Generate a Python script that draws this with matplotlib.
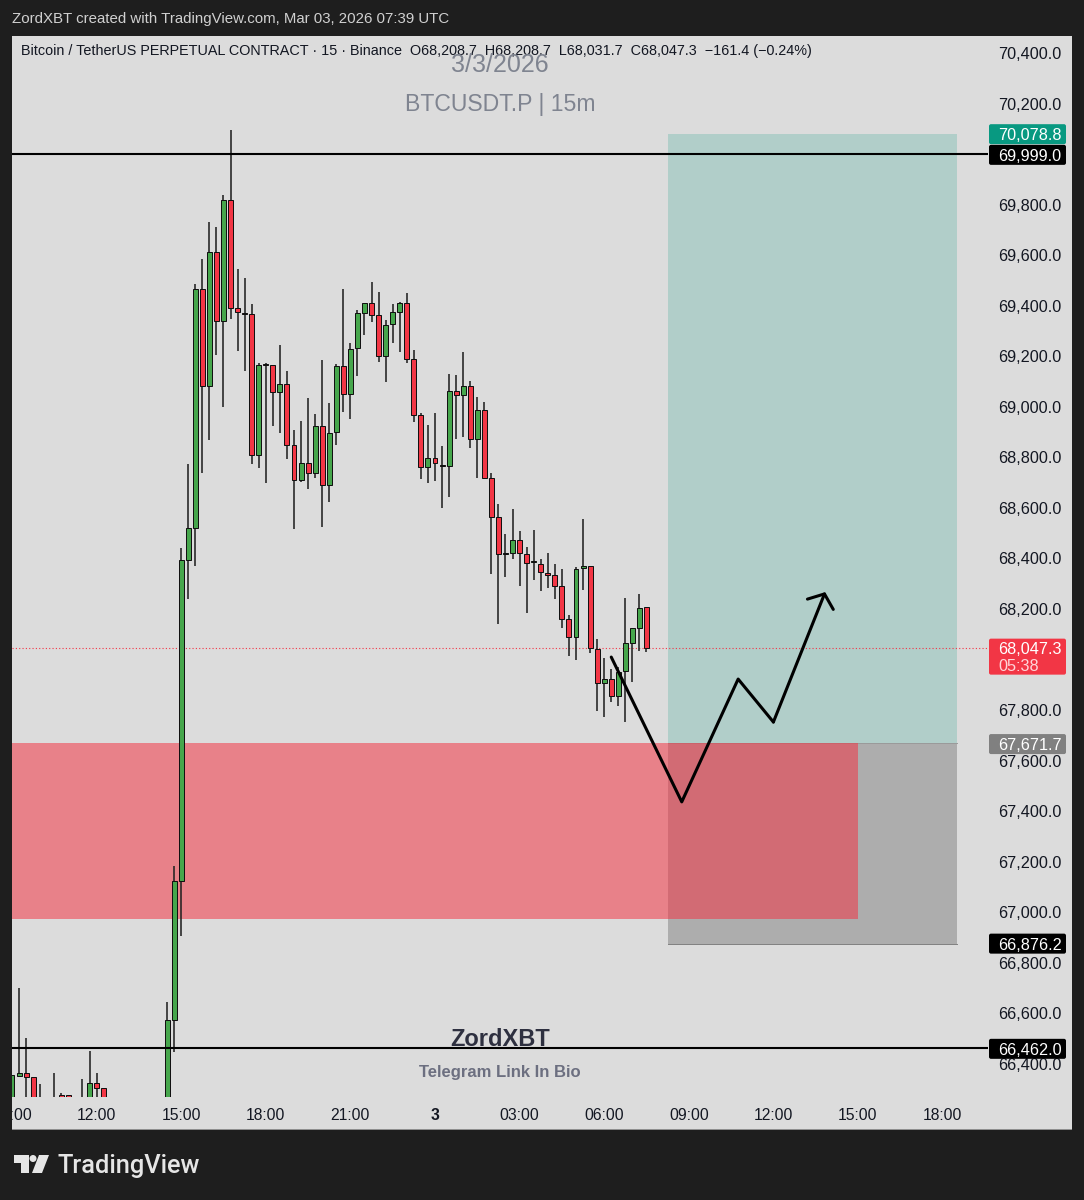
from matplotlib import pyplot as plt
from matplotlib.patches import Rectangle, FancyBboxPatch, Polygon, Circle
from matplotlib.transforms import IdentityTransform
import numpy as np

plt.rcParams['font.family'] = ['Liberation Sans', 'DejaVu Sans']

# bar number counted from the 15:00 candle
bars = [-24, -23, -22, -21, -20, -18, -17, -16, -14, -13, -12, -11, -2, -1,
        0, 1, 2, 3, 4, 5, 6, 7, 8, 9, 10, 11, 12, 13, 14, 15, 16, 17, 18, 19,
        20, 21, 22, 23, 24, 25, 26, 27, 28, 29, 30, 31, 32, 33, 34, 35, 36, 37, 38, 39,
        40, 41, 42, 43, 44, 45, 46, 47, 48, 49, 50, 51, 52, 53, 54, 55, 56, 57, 58, 59,
        60, 61, 62, 63, 64, 65, 66]
opens = [66200, 66352, 66364, 66348, 66250, 66250, 66277, 66277, 66250, 66200, 66325, 66305, 66200, 66574,
         67124, 68394, 68521, 69466, 69082, 69613, 69340, 69818, 69391, 69371, 69367, 68809, 69170, 69166, 69059, 69090,
         68849, 68711, 68778, 68738, 68924, 68691, 68900, 69162, 69051, 69233, 69371, 69411, 69363, 69201, 69328, 69375,
         69411, 69189, 68968, 68762, 68798, 68770, 68766, 69063, 69047, 69082, 68873, 68988, 68718, 68564, 68418, 68422,
         68473, 68418, 68386, 68378, 68343, 68335, 68291, 68161, 68089, 68362, 68370, 68042, 67907, 67923, 67856, 67955,
         68066, 68125, 68208.7]
highs = [66356, 66701, 66503, 66348, 66321, 66364, 66285, 66277, 66340, 66451, 66364, 66305, 66645, 67183,
         68441, 68774, 69486, 69585, 69731, 69712, 69838, 70095, 69545, 69510, 69407, 69173, 69173, 69166, 69245, 69142,
         68908, 68944, 69035, 68972, 69185, 69015, 69170, 69466, 69253, 69383, 69411, 69494, 69454, 69344, 69407, 69415,
         69450, 69225, 68976, 68928, 68976, 68845, 69130, 69126, 69217, 69102, 69039, 69019, 68738, 68616, 68497, 68596,
         68509, 68445, 68513, 68398, 68422, 68378, 68358, 68176, 68366, 68556, 68370, 68081, 68006, 67963, 67971, 68244,
         68125, 68260, 68208.7]
lows = [66200, 66348, 66200, 66200, 66200, 66200, 66200, 66200, 66200, 66200, 66200, 66200, 66200, 66447,
        66906, 68240, 68370, 68738, 68869, 69205, 69000, 69348, 69221, 69142, 68774, 68758, 68699, 68924, 68897, 68794,
        68517, 68703, 68675, 68718, 68525, 68624, 68849, 68980, 68952, 69122, 69284, 69336, 69177, 69098, 69253, 69217,
        69173, 68940, 68715, 68699, 68707, 68600, 68643, 68873, 68881, 68837, 68718, 68718, 68339, 68141, 68327, 68398,
        68291, 68184, 68315, 68271, 68283, 68240, 68125, 68014, 67998, 68275, 68026, 67797, 67773, 67832, 67816, 67753,
        67911, 68034, 68031.7]
closes = [66356, 66364, 66348, 66200, 66220, 66240, 66240, 66250, 66240, 66325, 66305, 66200, 66574, 67124,
          68394, 68521, 69466, 69082, 69613, 69340, 69818, 69391, 69375, 69367, 68809, 69166, 69166, 69059, 69090, 68849,
          68711, 68778, 68738, 68924, 68691, 68897, 69162, 69051, 69229, 69371, 69411, 69363, 69201, 69324, 69375, 69411,
          69189, 68968, 68762, 68798, 68778, 68766, 69063, 69047, 69082, 68873, 68988, 68718, 68564, 68418, 68422, 68473,
          68422, 68382, 68390, 68347, 68335, 68291, 68161, 68089, 68358, 68370, 68046, 67907, 67923, 67856, 67951, 68066,
          68125, 68204, 68047.3]

price_ticks = [70400, 70200, 70000, 69800, 69600, 69400, 69200, 69000, 68800, 68600, 68400, 68200, 68000,
               67800, 67600, 67400, 67200, 67000, 66800, 66600, 66400]
time_ticks = [-24, -12, 0, 12, 24, 36, 48, 60, 72, 84, 96, 108]
time_labels = ["09:00", "12:00", "15:00", "18:00", "21:00", "3", "03:00", "06:00", "09:00", "12:00", "15:00", "18:00"]

# drawing on the right side
arrow_x = [61, 71, 79, 84, 91.35]
arrow_y = [68010, 67437, 67923, 67753, 68267]
line_high = 69999.0
line_low = 66462.0
last_price = 68047.3
target = 70078.8
entry = 67671.7
stop = 66876.2
zone_low = 66974

BG = "#1e1e1e"
PANEL = "#dcdcdc"
GREEN = "#46a64c"
RED = "#f23645"
W, H = 1084, 1200

fig = plt.figure(figsize=(W / 100, H / 100), dpi=100, facecolor=BG)

def fx(x):
    return x / W

def fy(y):
    return 1 - y / H

# light panel behind chart and axes
fig.add_artist(Rectangle((fx(12), fy(1129)), fx(1060), 1093 / H, fc=PANEL, ec="none",
                         transform=fig.transFigure, zorder=-1))
fig.add_artist(Rectangle((fx(12), fy(1130)), fx(1060), 1 / H, fc="#8f8f8f", ec="none",
                         transform=fig.transFigure, zorder=-1))

ax = fig.add_axes([fx(12), fy(1097), 976 / W, (1097 - 37) / H])
ax.patch.set_alpha(0)
ax.set_xlim(-24, 114.44)
ax.set_ylim(70400 - 1044 * 3.9565, 70400 + 16 * 3.9565)
for s in ax.spines.values():
    s.set_visible(False)

ax.yaxis.tick_right()
ax.set_yticks(price_ticks)
ax.set_yticklabels([f"{p:,.1f}" for p in price_ticks], fontsize=11.7, color="#131722")
ax.tick_params(axis="y", length=0, pad=7)
ax.set_xticks(time_ticks)
ax.set_xticklabels(time_labels, fontsize=11.3, color="#131722")
ax.tick_params(axis="x", length=0, pad=8.2)
ax.get_xticklabels()[5].set_fontweight("bold")

bars = np.array(bars)
opens = np.array(opens)
highs = np.array(highs)
lows = np.array(lows)
closes = np.array(closes)

# position tool and zone
ax.add_patch(Rectangle((69, entry), 41, target - entry, fc="#089981", alpha=0.2, lw=0, zorder=1))
ax.add_patch(Rectangle((69, stop), 41, entry - stop, fc="#000000", alpha=0.21, lw=0, zorder=1))
ax.plot([69, 110], [stop, stop], color="#808080", lw=0.7, zorder=1.1)
ax.plot([69, 110], [entry, entry], color="#9a9a9a", lw=0.7, zorder=1.1)
ax.add_patch(Rectangle((-24, zone_low), 120, entry - zone_low, fc=RED, alpha=0.55, lw=0, zorder=2))

ax.axhline(last_price, color=RED, lw=0.8, ls=(0, (1, 2)), zorder=2.5)

# candles
ax.vlines(bars, lows, highs, color="#222222", lw=1.15, zorder=3)
colors = [GREEN if c >= o else RED for o, c in zip(opens, closes)]
ax.bar(bars, closes - opens, bottom=opens, width=0.7, color=colors, edgecolor="#111111", linewidth=0.72, zorder=4)

ax.axhline(line_high, color="#000000", lw=1.5, zorder=5)
ax.axhline(line_low, color="#000000", lw=1.5, zorder=5)

ax.plot(arrow_x[:-1], arrow_y[:-1], color="#000000", lw=2.2, zorder=6, solid_capstyle="round")
ax.annotate("", xy=(arrow_x[-1], arrow_y[-1]), xytext=(arrow_x[-2], arrow_y[-2]), zorder=6,
            arrowprops=dict(arrowstyle="->,head_length=0.4,head_width=0.5", color="#000000", lw=2.2,
                            mutation_scale=20, shrinkA=0, shrinkB=0))

# price tags on the axis
def tag(price, text, fc, fg="#ffffff", h=20, y_shift=0):
    y = ax.transData.transform((0, price))[1] + y_shift
    fig.add_artist(FancyBboxPatch((990, y - h / 2 + 1), 75, h - 2, boxstyle="round,pad=1,rounding_size=2",
                                  fc=fc, ec="none", transform=IdentityTransform(), zorder=8))
    fig.text(fx(998), y / H, text, color=fg, fontsize=11.7, ha="left", va="center_baseline", zorder=9)

tag(target, "70,078.8", "#089981")
tag(line_high, "69,999.0", "#000000", y_shift=-0.5)
tag(entry, "67,671.7", "#808080", y_shift=-1.5)
tag(stop, "66,876.2", "#000000")
tag(line_low, "66,462.0", "#000000", y_shift=-0.5)

y_last = ax.transData.transform((0, last_price))[1]
fig.add_artist(FancyBboxPatch((990, y_last - 26), 75, 34, boxstyle="round,pad=1,rounding_size=2",
                              fc=RED, ec="none", transform=IdentityTransform(), zorder=8))
fig.text(fx(998), y_last / H, "68,047.3", color="#ffffff", fontsize=11.7, va="center_baseline", zorder=9)
fig.text(fx(998), (y_last - 17) / H, "05:38", color="#ffd5d9", fontsize=11.7, va="center_baseline", zorder=9)

# cover the part of the first time label that sticks out
fig.add_artist(Rectangle((0, fy(1129)), fx(12), 32 / H, fc=BG, ec="none", transform=fig.transFigure, zorder=7))

# header and captions
fig.text(fx(12), fy(19), "ZordXBT created with TradingView.com, Mar 03, 2026 07:39 UTC", color="#d0d0d0",
         fontsize=10.78, va="center")
fig.text(fx(21), fy(51), "Bitcoin / TetherUS PERPETUAL CONTRACT · 15 · Binance  O68,208.7  H68,208.7  L68,031.7  C68,047.3  \u2212161.4 (\u22120.24%)",
         color="#131722", fontsize=10.4, va="center", zorder=9)
fig.text(fx(500), fy(65), "3/3/2026", color="#7f8490", fontsize=18, ha="center", va="center", zorder=9)
fig.text(fx(500), fy(105), "BTCUSDT.P | 15m", color="#7f8490", fontsize=16.6, ha="center", va="center", zorder=9)
fig.text(fx(500), fy(1040), "ZordXBT", color="#2e3040", fontsize=17, fontweight="bold", ha="center", va="center", zorder=9)
fig.text(fx(500), fy(1073), "Telegram Link In Bio", color="#6c6f80", fontsize=12, fontweight="bold", ha="center", va="center", zorder=9)

# TradingView mark
LOGO = "#e6e6e6"
for pts in ([(14, 1155), (29, 1155), (29, 1173), (21, 1173), (21, 1163), (14, 1163)],
            [(39, 1155), (49, 1155), (42, 1173), (32, 1173)]):
    fig.add_artist(Polygon([(fx(x), fy(y)) for x, y in pts], fc=LOGO, ec="none", transform=fig.transFigure))
fig.add_artist(Circle((33, H - 1158.5), 3.5, fc=LOGO, ec="none", transform=IdentityTransform()))
fig.text(fx(57), fy(1166), "TradingView", color=LOGO, fontsize=18.3, fontweight=500, family="Roboto", va="center")

plt.savefig("out.png", dpi=100, facecolor=BG)
